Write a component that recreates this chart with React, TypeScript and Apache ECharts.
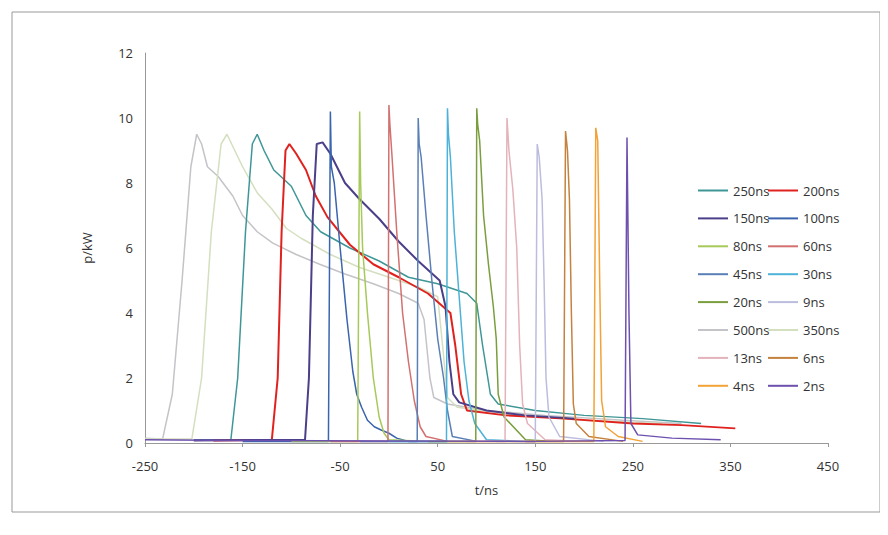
import React, { useEffect, useRef } from "react";
import * as echarts from "echarts";

const xTicks = { min: -250, max: 450, interval: 100 };
const yTicks = { min: 0, max: 12, interval: 2 };

const leftNames = ["250ns", "150ns", "80ns", "45ns", "20ns", "500ns", "13ns", "4ns"];
const rightNames = ["200ns", "100ns", "60ns", "30ns", "9ns", "350ns", "6ns", "2ns"];

const colors: Record<string, string> = {
  "250ns": "#3f9696", "200ns": "#e0221e", "150ns": "#4a3f88", "100ns": "#3a64ae",
  "80ns": "#a6c95a", "60ns": "#d2716f", "45ns": "#5a7fb6", "30ns": "#4db2d8",
  "20ns": "#7a9e3e", "9ns": "#bcbcde", "500ns": "#c4c4c8", "350ns": "#d4dfbf",
  "13ns": "#e4b2ba", "6ns": "#c4823e", "4ns": "#f2a236", "2ns": "#6e50ae",
};

const widths: Record<string, number> = { "200ns": 2, "150ns": 2 };

const curves: Record<string, number[][]> = {
  "500ns": [[-250, 0.15], [-232, 0.12], [-222, 1.5], [-212, 5], [-203, 8.5], [-197, 9.5], [-192, 9.2], [-186, 8.5], [-175, 8.2], [-160, 7.6], [-150, 7.0], [-135, 6.5], [-119, 6.15], [-95, 5.8], [-71, 5.5], [-45, 5.2], [-16, 4.9], [10, 4.6], [30, 4.3], [36, 3.8], [42, 2.0], [46, 1.4], [60, 1.2], [100, 1.0], [160, 0.85], [240, 0.7], [300, 0.6]],
  "350ns": [[-250, 0.12], [-202, 0.12], [-192, 2], [-182, 6.5], [-172, 9.2], [-166, 9.5], [-158, 9.0], [-150, 8.5], [-135, 7.7], [-120, 7.2], [-105, 6.6], [-90, 6.3], [-60, 5.8], [-30, 5.4], [0, 5.1], [30, 4.8], [50, 4.5], [55, 3.0], [60, 1.4], [70, 1.1], [120, 0.9], [200, 0.7], [280, 0.6]],
  "250ns": [[-200, 0.1], [-162, 0.1], [-155, 2], [-147, 6.5], [-140, 9.2], [-135, 9.5], [-128, 9.0], [-118, 8.4], [-100, 7.9], [-85, 7.0], [-70, 6.5], [-40, 6.0], [-10, 5.6], [20, 5.1], [50, 4.9], [80, 4.6], [90, 4.3], [96, 3.0], [104, 1.5], [112, 1.2], [150, 1.0], [200, 0.85], [260, 0.75], [320, 0.6]],
  "200ns": [[-180, 0.08], [-120, 0.1], [-114, 2], [-110, 6.5], [-106, 9.0], [-102, 9.2], [-95, 8.9], [-85, 8.4], [-75, 7.6], [-63, 6.95], [-40, 6.1], [-16, 5.5], [10, 5.1], [40, 4.6], [63, 4.0], [68, 3.0], [74, 1.5], [80, 1.0], [120, 0.85], [180, 0.75], [250, 0.6], [300, 0.55], [355, 0.45]],
  "150ns": [[-200, 0.08], [-86, 0.1], [-82, 2], [-78, 7], [-74, 9.2], [-68, 9.25], [-60, 8.9], [-45, 8.0], [-30, 7.5], [-10, 6.9], [10, 6.2], [30, 5.6], [52, 5.0], [58, 4.2], [62, 2.5], [66, 1.5], [72, 1.25], [100, 1.0], [140, 0.85], [190, 0.75]],
  "100ns": [[-150, 0.05], [-62, 0.05], [-61, 5], [-60, 10.2], [-59, 8.5], [-56, 8.0], [-50, 6.0], [-43, 3.8], [-37, 2.2], [-33, 1.5], [-28, 1.1], [-22, 0.7], [-15, 0.5], [-8, 0.4], [0, 0.3], [8, 0.15], [20, 0.05], [60, 0.05]],
  "80ns": [[-100, 0.05], [-32, 0.05], [-31, 5], [-30, 10.2], [-29, 8], [-27, 6.0], [-22, 4.0], [-16, 2.0], [-10, 0.8], [-5, 0.3], [0, 0.1], [40, 0.05]],
  "60ns": [[-60, 0.05], [-1, 0.05], [0, 10.4], [1, 9.8], [3, 8.9], [8, 6.5], [14, 4.0], [20, 2.5], [26, 1.3], [32, 0.5], [38, 0.2], [60, 0.05]],
  "45ns": [[-30, 0.05], [29, 0.05], [30, 10.0], [31, 9.2], [33, 8.8], [38, 7.0], [44, 5.0], [50, 3.2], [56, 2.0], [60, 1.0], [65, 0.2], [90, 0.05]],
  "30ns": [[0, 0.05], [59, 0.05], [60, 10.3], [61, 9.5], [63, 8.8], [67, 6.5], [72, 4.5], [77, 2.5], [82, 1.3], [88, 0.6], [100, 0.1], [140, 0.05]],
  "20ns": [[40, 0.05], [89, 0.05], [90, 10.3], [91, 9.8], [93, 9.3], [97, 7.0], [102, 5.5], [107, 4.2], [110, 3.2], [112, 1.5], [118, 0.8], [140, 0.1], [170, 0.05]],
  "13ns": [[80, 0.05], [119, 0.05], [121, 10.0], [123, 9.0], [127, 7.8], [131, 6.0], [134, 3.0], [137, 1.2], [142, 0.6], [160, 0.1], [200, 0.05]],
  "9ns": [[110, 0.05], [150, 0.05], [152, 9.2], [154, 8.8], [157, 7.5], [159, 5.0], [161, 2.0], [164, 0.8], [175, 0.2], [220, 0.05]],
  "6ns": [[140, 0.05], [179, 0.05], [181, 9.6], [183, 9.0], [185, 7.5], [187, 4.0], [189, 1.2], [192, 0.6], [205, 0.2], [240, 0.05]],
  "4ns": [[60, 0.05], [210, 0.05], [212, 9.7], [214, 9.3], [216, 5.0], [218, 1.3], [222, 0.5], [235, 0.2], [260, 0.05]],
  "2ns": [[-250, 0.1], [-150, 0.08], [0, 0.06], [150, 0.05], [242, 0.08], [244, 9.4], [246, 4.0], [248, 0.6], [255, 0.25], [290, 0.15], [340, 0.1]],
};

const seriesOrder = ["500ns", "350ns", "250ns", "200ns", "150ns", "100ns", "80ns", "60ns", "45ns", "30ns", "20ns", "13ns", "9ns", "6ns", "4ns", "2ns"];

const App: React.FC = () => {
  const chartRef = useRef<HTMLDivElement>(null);

  useEffect(() => {
    const chart = echarts.init(chartRef.current!, undefined, { renderer: "svg" });
    const legendBase = {
      orient: "vertical" as const,
      top: 179,
      itemWidth: 30,
      itemHeight: 14,
      itemGap: 14.9,
      icon: "path://M0,6 L30,6 L30,8 L0,8 Z",
      textStyle: { fontSize: 13, color: "#333", fontFamily: "Open Sans" },
    };
    chart.setOption({
      animation: false,
      backgroundColor: "#fff",
      textStyle: { fontFamily: "Open Sans" },
      graphic: [
        { type: "rect", shape: { x: 12, y: 12, width: 868, height: 500 }, style: { fill: "none", stroke: "#999", lineWidth: 1 }, silent: true },
      ],
      grid: { left: 145, right: 60, top: 53, bottom: 92 },
      legend: [
        { ...legendBase, left: 693, data: leftNames },
        { ...legendBase, left: 763, data: rightNames },
      ],
      xAxis: {
        type: "value",
        ...xTicks,
        name: "t/ns",
        nameLocation: "middle",
        nameGap: 40,
        nameTextStyle: { fontSize: 13, color: "#333" },
        axisLine: { onZero: false, lineStyle: { color: "#999" } },
        axisTick: { show: true, length: 4, lineStyle: { color: "#999" } },
        axisLabel: { fontSize: 13, color: "#333", margin: 16 },
        splitLine: { show: false },
      },
      yAxis: {
        type: "value",
        ...yTicks,
        name: "p/kW",
        nameLocation: "middle",
        nameGap: 52,
        nameTextStyle: { fontSize: 13, color: "#333" },
        axisLine: { show: true, onZero: false, lineStyle: { color: "#999" } },
        axisTick: { show: false },
        axisLabel: { fontSize: 13, color: "#333", margin: 12 },
        splitLine: { show: false },
      },
      series: seriesOrder.map((name) => ({
        name,
        type: "line",
        data: curves[name],
        showSymbol: false,
        symbol: "none",
        color: colors[name],
        lineStyle: { width: widths[name] ?? 1.5, color: colors[name] },
      })),
    });
    return () => {
      chart.dispose();
    };
  }, []);

  return <div ref={chartRef} style={{ width: 888, height: 535, margin: -8 }} />;
};

export default App;
